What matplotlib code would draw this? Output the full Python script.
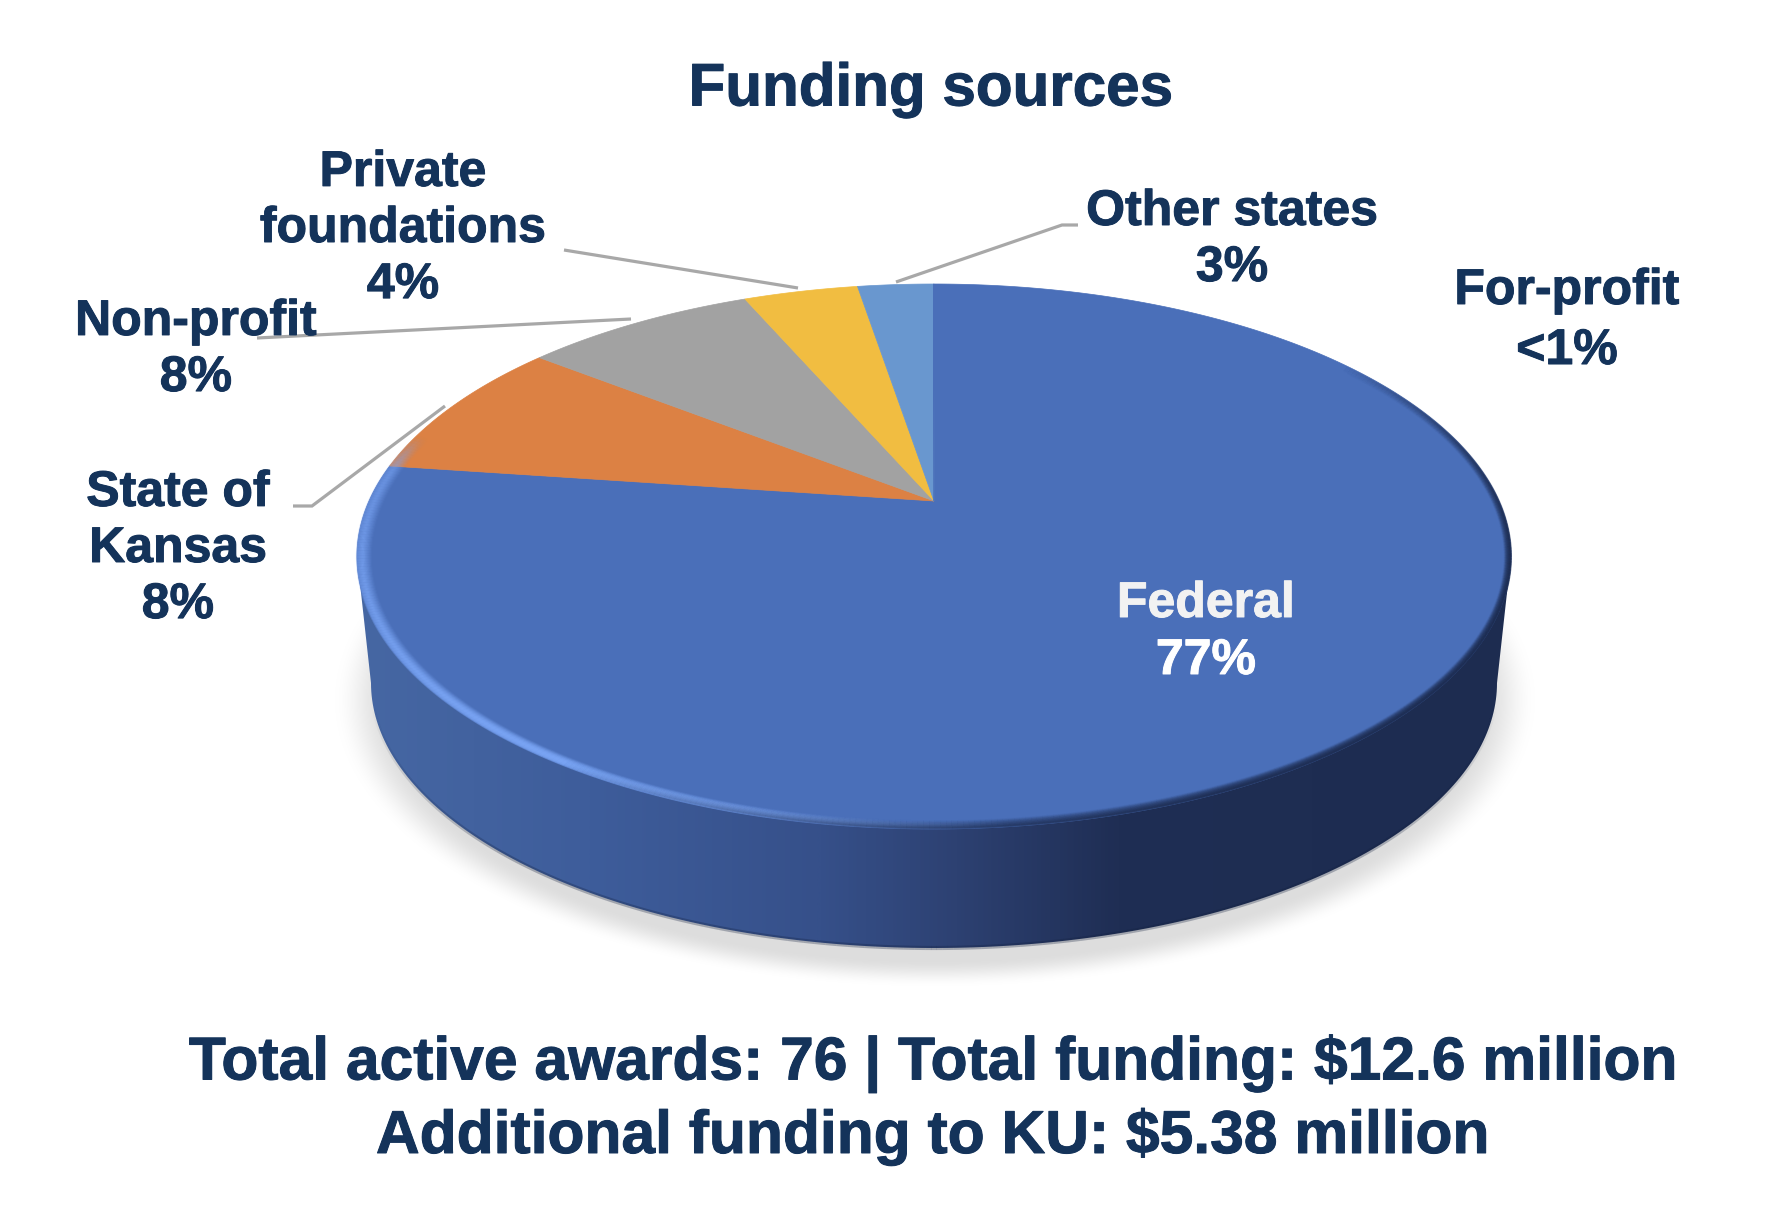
#!/usr/bin/python3

import numpy as np
import matplotlib
matplotlib.use('Agg')
import matplotlib.pyplot as plt
import matplotlib.patheffects as pe
from matplotlib.collections import LineCollection
from matplotlib.colors import LinearSegmentedColormap, to_rgb
from matplotlib.patches import Polygon

# data
names = ['Federal', 'State of\nKansas', 'Non-profit', 'Private\nfoundations', 'Other states', 'For-profit']
pct_labels = ['77%', '8%', '8%', '4%', '3%', '<1%']
values = [77.2, 8.4, 7.9, 3.9, 2.58, 0.02]
colors = ['#4a6fb9', '#dc8144', '#a2a2a2', '#f1bd41', '#6997cf', '#4a6fb9']

title = 'Funding sources'
footer = ['Total active awards: 76 | Total funding: $12.6 million',
          'Additional funding to KU: $5.38 million']

navy = '#14335a'
lead = '#a8a8a8'

plt.rcParams['font.family'] = ['Liberation Sans', 'DejaVu Sans']
plt.rcParams['font.weight'] = 'bold'

fig = plt.figure(figsize=(17.8, 12.08), dpi=100)
ax = fig.add_axes([0, 0, 1, 1])

# pie geometry, in picture pixels
cx, apex_y = 934, 501
k = 0.2037
pie_a, pie_b = 565, 261.2
top_cy, top_a, top_b = 556.5, 577, 272
bot_cy, bot_a, bot_b = 683, 563, 265


def project(theta):
    # theta clockwise from 12 o'clock on the flat disc, perspective onto the screen
    u, v = np.sin(theta), np.cos(theta)
    w = 1 + k*v
    return cx + pie_a*u/w, apex_y - pie_b*v/w


def bold_text(x, y, s, color=navy, size=36, stroke=0.7, **kw):
    # the original text sits a little heavier than plain bold
    t = ax.text(x, y, s, color=color, fontsize=size, fontweight='bold', ha='center', va='center',
                zorder=7, **kw)
    t.set_path_effects([pe.withStroke(linewidth=stroke, foreground=color)])
    return t


def faded_line(xs, ys, alphas, color, lw, z):
    pts = np.c_[xs, ys]
    segs = np.stack([pts[:-1], pts[1:]], axis=1)
    seg_colors = np.c_[np.tile(to_rgb(color), (len(segs), 1)), np.clip(alphas[:-1], 0, 1)]
    ax.add_collection(LineCollection(segs, colors=seg_colors, linewidths=lw, capstyle='butt', zorder=z))


# shadow under the pie
yy, xx = np.mgrid[400:1040:640j, 300:1570:1270j]
dist = np.sqrt(((xx - 935)/574)**2 + ((yy - 700)/274)**2)
shade = np.clip((1.05 - dist)/0.10, 0, 1)
shade = shade*shade*(3 - 2*shade)
rgba = np.ones(shade.shape + (4,))
rgba[..., :3] = 0.87
rgba[..., 3] = shade
ax.imshow(rgba, extent=(300, 1570, 1040, 400), aspect='auto', zorder=1)

# wall: bottom ellipse plus a straight run up to the top ellipse
phi = np.radians(np.linspace(180, 0, 200))
wall_x = np.r_[cx - top_a, cx + bot_a*np.cos(phi), cx + top_a]
wall_y = np.r_[top_cy, bot_cy + bot_b*np.sin(phi), top_cy]
wall_cmap = LinearSegmentedColormap.from_list('wall', [
    (0.0, '#4667a3'), (0.2, '#3e5d9b'), (0.4, '#36508a'), (0.52, '#2d4172'),
    (0.66, '#1f2e54'), (1.0, '#1d2c50')])
grad = np.linspace(0, 1, 600).reshape(1, -1)
im = ax.imshow(grad, cmap=wall_cmap, extent=(357, 1510, 960, 550), aspect='auto', zorder=2)
wall = Polygon(np.c_[wall_x, wall_y], closed=True, transform=ax.transData, fc='none', ec='none')
ax.add_patch(wall)
im.set_clip_path(wall)

# darker lower edge of the wall, fading out towards the sides
deg_e = np.linspace(175, 5, 300)
phi_e = np.radians(deg_e)
fade = np.interp(deg_e, [5, 40, 140, 175], [0, 1, 1, 0])
faded_line(cx + bot_a*np.cos(phi_e), bot_cy + bot_b*np.sin(phi_e), 0.3*fade, '#14213f', 3.0, 3)

# top face, one polygon for each value
fracs = np.array(values)/np.sum(values)
edges = np.r_[0, np.cumsum(fracs)]*2*np.pi
for i, color in enumerate(colors):
    th = np.linspace(edges[i], edges[i+1], max(int(fracs[i]*600), 2))
    px, py = project(th)
    ax.fill(np.r_[cx, px], np.r_[apex_y, py], facecolor=color, edgecolor=color, lw=0.5, zorder=4)


def rim(inset_a, inset_b, strength, shape, color, lw, z):
    # soft band following the front edge of the top face
    deg = np.linspace(-70, 215, 500)
    phis = np.radians(deg)
    for frac in np.linspace(0, 1, 14):
        xs = cx + (top_a - inset_a*frac)*np.cos(phis)
        ys = top_cy + (top_b - inset_b*frac)*np.sin(phis)
        faded_line(xs, ys, strength(deg)*shape(frac), color, lw, z)


# light bevel on the left and front
rim(15, 8,
    lambda p: np.interp(p, [82, 95, 110, 130, 180, 198, 206], [0, 0.35, 0.95, 0.85, 0.55, 0.4, 0]),
    lambda f: np.interp(f, [0, 0.35, 0.75, 1], [0.55, 1, 0.35, 0]),
    '#7aa5f5', 1.6, 5)
# dark blur on the right
rim(7, 8,
    lambda p: np.interp(p, [-45, -20, 0, 60, 100, 130], [0, 0.5, 0.85, 0.8, 0.3, 0]),
    lambda f: np.interp(f, [0, 1], [0.8, 0]),
    '#1d2c50', 1.4, 5)

# leader lines
leaders = [
    ([293, 312, 445], [506, 506, 406]),
    ([257, 631], [338, 319]),
    ([564, 798], [250, 288]),
    ([1078, 1062, 896], [225, 225, 282]),
]
for lx, ly in leaders:
    ax.plot(lx, ly, color=lead, lw=2.3, zorder=6, solid_capstyle='butt', solid_joinstyle='miter')

# labels
label_pos = [(1206, 628), (178, 549), (196, 350), (403, 229), (1232, 240), (1567, 321)]
label_gap = [1.28, 1.28, 1.28, 1.28, 1.28, 1.39]
for i, name in enumerate(names):
    if i == 0:
        continue
    bold_text(label_pos[i][0], label_pos[i][1], name + '\n' + pct_labels[i],
              multialignment='center', linespacing=label_gap[i])

# Federal has two tones of white
bold_text(label_pos[0][0], 604, names[0], color='#f2f2f2')
bold_text(label_pos[0][0], 661, pct_labels[0], color='white')

bold_text(931, 90, title, size=43.3)
bold_text(932, 1064, footer[0], size=43.6)
bold_text(932, 1137, footer[1], size=43.6)

ax.set_xlim(0, 1780)
ax.set_ylim(1208, 0)
ax.axis('off')

fig.savefig('out.png', dpi=100, facecolor='white')
